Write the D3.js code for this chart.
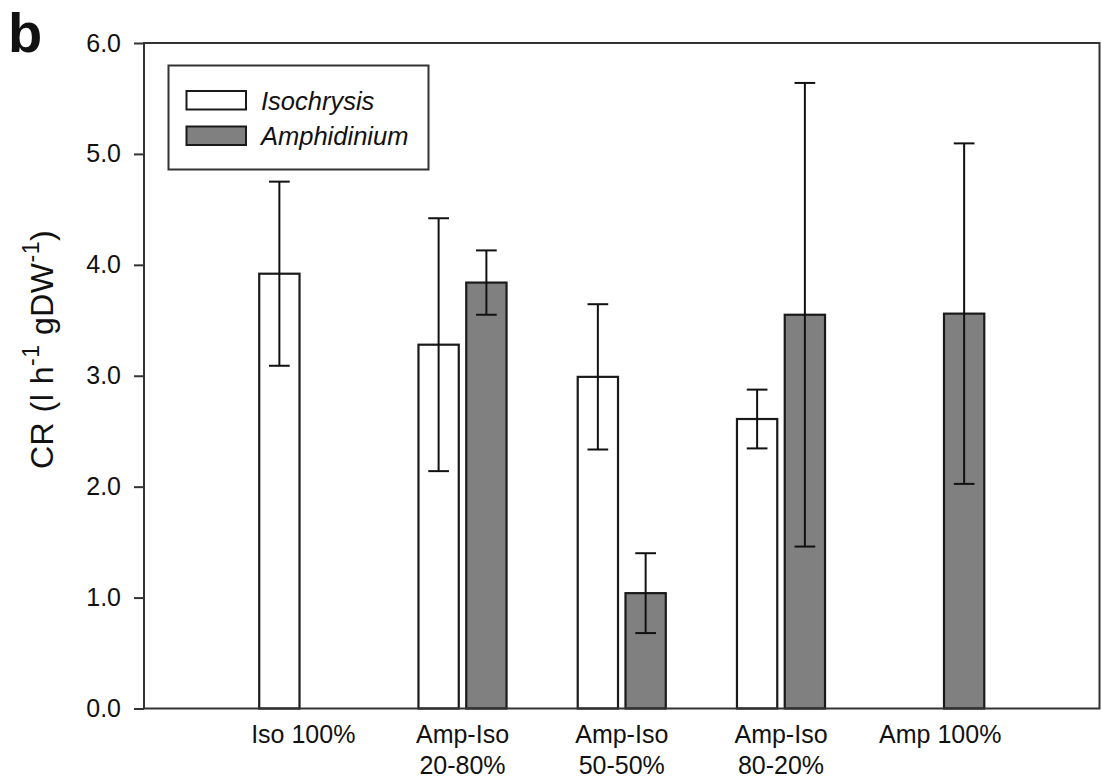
<!DOCTYPE html>
<html>
<head>
<meta charset="utf-8">
<script src="https://cdn.jsdelivr.net/npm/d3@7"></script>
<style>
  html, body { margin: 0; padding: 0; background: #fff; }
  svg { display: block; }
  text { font-family: "Liberation Sans", Arial, sans-serif; fill: #111; }
</style>
</head>
<body>
<svg id="chart" width="1102" height="782"></svg>
<script>
// Treatments (Amphidinium–Isochrysis mixtures)
const categories = ["Iso 100%", "Amp-Iso 20-80%", "Amp-Iso 50-50%", "Amp-Iso 80-20%", "Amp 100%"];
const categoryLines = [["Iso 100%"], ["Amp-Iso", "20-80%"], ["Amp-Iso", "50-50%"], ["Amp-Iso", "80-20%"], ["Amp 100%"]];
const seriesNames = ["Isochrysis", "Amphidinium"];

// Clearance rate means and SD (l h-1 gDW-1); null = not offered
const isoMean = [3.92, 3.28, 2.99, 2.61, null];
const isoSD   = [0.83, 1.14, 0.655, 0.265, null];
const ampMean = [null, 3.84, 1.04, 3.55, 3.56];
const ampSD   = [null, 0.29, 0.36, 2.09, 1.535];

const yTicks = [0, 1, 2, 3, 4, 5, 6];

const svg = d3.select("#chart");
const m = { left: 144, right: 1099.5, top: 43, bottom: 708.5 };

// Categories sit at 1..5 on a 0..6 axis
const x = d3.scaleLinear().domain([0, 6]).range([m.left, m.right]);
const y = d3.scaleLinear().domain([0, 6]).range([m.bottom, m.top]);

const barW = 0.253;      // in category units
const barOff = 0.15;     // half-distance between paired bar centres
const capW = 0.13;

const series = [
  { name: seriesNames[0], mean: isoMean, sd: isoSD, off: -barOff, fill: "#ffffff" },
  { name: seriesNames[1], mean: ampMean, sd: ampSD, off: barOff, fill: "#808080" }
];

const stroke = "#1a1a1a";

// Bars
series.forEach(s => {
  const pts = s.mean.map((v, i) => ({ v, sd: s.sd[i], i })).filter(d => d.v != null);
  svg.append("g").selectAll("rect").data(pts).join("rect")
    .attr("x", d => x(d.i + 1 + s.off - barW / 2))
    .attr("width", d => x(barW) - x(0))
    .attr("y", d => y(d.v))
    .attr("height", d => y(0) - y(d.v))
    .attr("fill", s.fill)
    .attr("stroke", stroke)
    .attr("stroke-width", 2.2);

  const eb = svg.append("g").attr("stroke", "#111").attr("stroke-width", 2);
  pts.forEach(d => {
    const cx = x(d.i + 1 + s.off);
    const hw = (x(capW) - x(0)) / 2;
    eb.append("line").attr("x1", cx).attr("x2", cx).attr("y1", y(d.v - d.sd)).attr("y2", y(d.v + d.sd));
    eb.append("line").attr("x1", cx - hw).attr("x2", cx + hw).attr("y1", y(d.v + d.sd)).attr("y2", y(d.v + d.sd));
    eb.append("line").attr("x1", cx - hw).attr("x2", cx + hw).attr("y1", y(d.v - d.sd)).attr("y2", y(d.v - d.sd));
  });
});

// Frame
svg.append("rect")
  .attr("x", m.left).attr("y", m.top)
  .attr("width", m.right - m.left).attr("height", m.bottom - m.top)
  .attr("fill", "none").attr("stroke", "#333").attr("stroke-width", 2);

// Y axis
const yAxis = svg.append("g")
  .attr("transform", `translate(${m.left},0)`)
  .call(d3.axisLeft(y).tickValues(yTicks).tickFormat(d3.format(".1f")).tickSize(10).tickPadding(13));
yAxis.select(".domain").remove();
yAxis.selectAll(".tick line").attr("stroke", "#333").attr("stroke-width", 2);
yAxis.selectAll(".tick text")
  .style("font-family", '"Liberation Sans", Arial, sans-serif')
  .style("font-size", "25px").attr("fill", "#111");

// X category labels
const xl = svg.append("g").selectAll("text").data(categoryLines).join("text")
  .attr("text-anchor", "middle")
  .style("font-size", "25px")
  .attr("x", (d, i) => x(i + 1))
  .attr("y", 742.5);
xl.each(function (lines) {
  const t = d3.select(this);
  lines.forEach((ln, k) => {
    t.append("tspan").attr("x", t.attr("x")).attr("dy", k === 0 ? 0 : 31.5).text(ln);
  });
});

// Y axis title
const yt = svg.append("text")
  .attr("transform", "translate(53,469) rotate(-90)")
  .attr("text-anchor", "start")
  .style("font-size", "32px")
  .style("letter-spacing", "0.5px");
yt.append("tspan").text("CR (l h");
yt.append("tspan").attr("dy", -14).style("font-size", "23px").text("-1");
yt.append("tspan").attr("dy", 14).text(" gDW");
yt.append("tspan").attr("dy", -14).style("font-size", "23px").text("-1");
yt.append("tspan").attr("dy", 14).text(")");

// Panel letter
svg.append("text").attr("x", 8).attr("y", 51.5)
  .style("font-size", "56px").style("font-weight", "bold").attr("fill", "#000").text("b");

// Legend
const lg = svg.append("g");
lg.append("rect").attr("x", 168.5).attr("y", 65.5).attr("width", 260).attr("height", 104)
  .attr("fill", "#fff").attr("stroke", "#333").attr("stroke-width", 2);
series.forEach((s, k) => {
  const sy = [91, 126.5][k];
  lg.append("rect").attr("x", 186.5).attr("y", sy).attr("width", 59.5).attr("height", 18.5)
    .attr("fill", s.fill).attr("stroke", stroke).attr("stroke-width", 2);
  lg.append("text").attr("x", 261).attr("y", sy + 18.5)
    .style("font-size", "25.5px").style("font-style", "italic").text(s.name);
});
</script>
</body>
</html>
